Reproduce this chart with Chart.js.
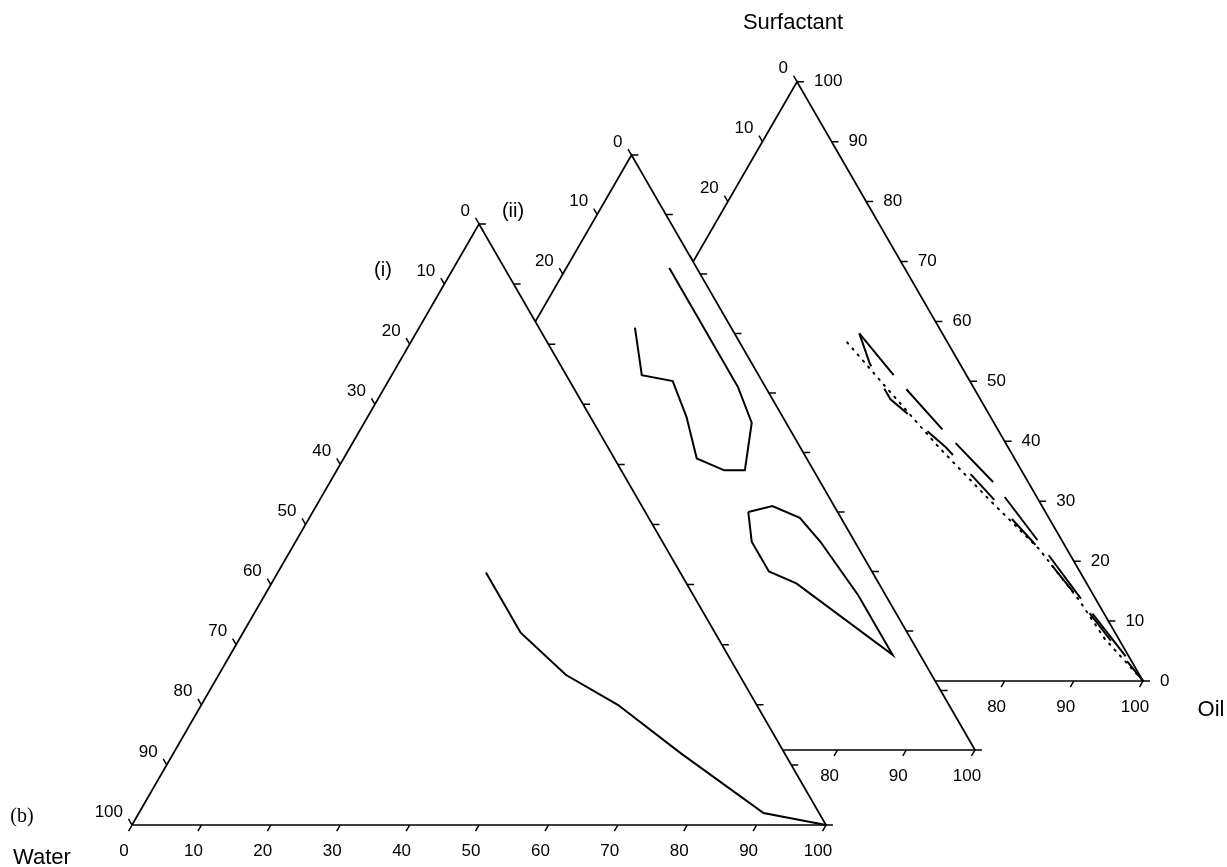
<!DOCTYPE html>
<html lang="en">
<head>
<meta charset="utf-8">
<title>Ternary phase diagrams (b)</title>
<script src="https://cdn.jsdelivr.net/npm/chart.js@4.4.1/dist/chart.umd.min.js"></script>
<style>
  html, body { margin: 0; padding: 0; background: #fff; }
  #wrap { width: 1227px; height: 867px; }
</style>
</head>
<body>
<div id="wrap"><canvas id="ternary" width="1227" height="867"></canvas></div>
<script>
// percent ticks along every side
const tickValues = [0, 10, 20, 30, 40, 50, 60, 70, 80, 90, 100];

// (i) boundary, oil % / surfactant % (water is the rest)
const curveIOil  = [30, 40, 50, 60, 73, 90, 100];
const curveISurf = [42, 32, 25, 20, 12, 2, 0];

// (ii) upper open boundary
const curveIIaOil  = [15, 20, 25, 30, 35, 40, 43, 40, 35, 15];
const curveIIaSurf = [71, 63, 62, 56, 49, 47, 47, 55, 61, 81];

// (ii) closed lower region
const curveIIbOil  = [47, 50, 55, 60, 70, 80, 60, 55, 50, 47];
const curveIIbSurf = [40, 41, 39, 35, 26, 16, 28, 30, 35, 40];

// (iii) long-dashed boundary
const curveIIIaOil  = [30, 38.5, 50, 62, 73, 85, 95, 100];
const curveIIIaSurf = [58, 51, 42, 33, 23.5, 13, 4.5, 0];

// (iii) short-dashed boundary
const curveIIIbOil  = [30, 34, 37, 40, 42, 52, 62, 72.5, 83.5, 94, 100];
const curveIIIbSurf = [58, 53, 50, 47, 45.7, 39, 31.3, 23.2, 14, 5, 0];

// (iii) dotted boundary
const curveIIIcOil  = [29, 39, 51, 63, 74, 84, 91, 100];
const curveIIIcSurf = [56.5, 48.5, 39, 30, 22, 13.5, 7, 0];

document.addEventListener('DOMContentLoaded', () => {
  const PX_PER_UNIT = 6.94;
  const W = 1227;
  const H = 867;
  const X_MIN = -132 / PX_PER_UNIT;
  const Y_MIN = -(H - 825) / PX_PER_UNIT;
  const H3 = Math.sqrt(3) / 2;
  const TICK = 1.0;
  const FONT = '"Liberation Sans", Arial, sans-serif';

  // placement of the three stacked triangles (units: side of (i) = 100)
  const frames = [
    { x0: 0, y0: 0, side: 100, rightLabels: false },
    { x0: 22.48, y0: 10.81, side: 98.99, rightLabels: false },
    { x0: 45.97, y0: 20.75, side: 99.71, rightLabels: true }
  ];

  function toXY(f, oil, surf) {
    return {
      x: f.x0 + f.side * (oil + surf / 2) / 100,
      y: f.y0 + f.side * H3 * surf / 100
    };
  }

  function series(f, oils, surfs) {
    return oils.map((o, i) => toXY(f, o, surfs[i]));
  }

  function outline(f, g) {
    return {
      data: [toXY(f, 0, 0), toXY(f, 100, 0), toXY(f, 0, 100), toXY(f, 0, 0)],
      borderColor: '#000',
      borderWidth: 1.7,
      borderJoinStyle: 'miter',
      backgroundColor: '#fff',
      fill: 'shape',
      order: 10 * g + 3
    };
  }

  function ticks(f, g) {
    const gap = { x: 0, y: null };
    const pts = [];
    tickValues.forEach((v) => {
      const b = toXY(f, v, 0);
      pts.push(b, { x: b.x - 0.5 * TICK, y: b.y - H3 * TICK }, gap);
      const l = toXY(f, 0, 100 - v);
      pts.push(l, { x: l.x - 0.5 * TICK, y: l.y + H3 * TICK }, gap);
      const r = toXY(f, 100 - v, v);
      pts.push(r, { x: r.x + TICK, y: r.y }, gap);
    });
    return {
      data: pts,
      borderColor: '#000',
      borderWidth: 1.5,
      spanGaps: false,
      fill: false,
      order: 10 * g + 2,
      labelFrame: g
    };
  }

  function curve(f, g, oils, surfs, dash) {
    return {
      data: series(f, oils, surfs),
      borderColor: '#000',
      borderWidth: 2,
      borderDash: dash || [],
      borderCapStyle: dash && dash[0] < 3 ? 'round' : 'butt',
      fill: false,
      order: 10 * g + 1
    };
  }

  function px(chart, p) {
    return {
      x: chart.scales.x.getPixelForValue(p.x),
      y: chart.scales.y.getPixelForValue(p.y)
    };
  }

  function drawFrameLabels(chart, f) {
    const ctx = chart.ctx;
    ctx.save();
    ctx.fillStyle = '#000';
    ctx.font = '17px ' + FONT;
    ctx.textBaseline = 'middle';
    tickValues.forEach((v) => {
      let p = px(chart, toXY(f, 0, 100 - v));
      ctx.textAlign = 'right';
      ctx.fillText(String(v), p.x - 9, p.y - 13);

      p = px(chart, toXY(f, v, 0));
      ctx.textAlign = 'center';
      ctx.fillText(String(v), p.x - 8, p.y + 26);

      if (f.rightLabels) {
        p = px(chart, toXY(f, 100 - v, v));
        ctx.textAlign = 'left';
        ctx.fillText(String(v), p.x + 17, p.y);
      }
    });
    ctx.restore();
  }

  function drawTitles(chart) {
    const ctx = chart.ctx;
    const apexI = px(chart, toXY(frames[0], 0, 100));
    const waterI = px(chart, toXY(frames[0], 0, 0));
    const apexIII = px(chart, toXY(frames[2], 0, 100));
    const oilIII = px(chart, toXY(frames[2], 100, 0));

    ctx.save();
    ctx.fillStyle = '#000';
    ctx.textAlign = 'center';
    ctx.textBaseline = 'middle';
    ctx.font = '22px ' + FONT;
    ctx.fillText('Surfactant', apexIII.x - 4, apexIII.y - 59);
    ctx.fillText('Oil', oilIII.x + 68, oilIII.y + 29);
    ctx.fillText('Water', waterI.x - 90, waterI.y + 33);
    ctx.font = '20px ' + FONT;
    ctx.fillText('(i)', apexI.x - 96, apexI.y + 47);
    ctx.fillText('(ii)', apexI.x + 34, apexI.y - 12);
    ctx.font = '20px "Liberation Serif", "Times New Roman", serif';
    ctx.fillText('(b)', waterI.x - 110, waterI.y - 8);
    ctx.restore();
  }

  const labelPlugin = {
    id: 'ternaryLabels',
    afterDatasetDraw(chart, args) {
      const ds = chart.data.datasets[args.index];
      if (ds.labelFrame === undefined) return;
      drawFrameLabels(chart, frames[ds.labelFrame]);
    },
    afterDraw(chart) {
      drawTitles(chart);
    }
  };

  const [fI, fII, fIII] = frames;
  const datasets = [
    outline(fI, 0),
    ticks(fI, 0),
    curve(fI, 0, curveIOil, curveISurf),

    outline(fII, 1),
    ticks(fII, 1),
    curve(fII, 1, curveIIaOil, curveIIaSurf),
    curve(fII, 1, curveIIbOil, curveIIbSurf),

    outline(fIII, 2),
    ticks(fIII, 2),
    curve(fIII, 2, curveIIIaOil, curveIIIaSurf, [54, 19]),
    curve(fIII, 2, curveIIIbOil, curveIIIbSurf, [35, 26]),
    curve(fIII, 2, curveIIIcOil, curveIIIcSurf, [1.5, 6.5])
  ];

  new Chart(document.getElementById('ternary'), {
    type: 'line',
    data: { datasets },
    options: {
      responsive: false,
      animation: false,
      devicePixelRatio: 1,
      events: [],
      layout: { padding: 0 },
      elements: {
        point: { radius: 0, hoverRadius: 0 },
        line: { tension: 0 }
      },
      plugins: {
        legend: { display: false },
        tooltip: { enabled: false },
        title: { display: false }
      },
      scales: {
        x: {
          type: 'linear',
          display: false,
          min: X_MIN,
          max: X_MIN + W / PX_PER_UNIT
        },
        y: {
          type: 'linear',
          display: false,
          min: Y_MIN,
          max: Y_MIN + H / PX_PER_UNIT
        }
      }
    },
    plugins: [labelPlugin]
  });
});
</script>
</body>
</html>
